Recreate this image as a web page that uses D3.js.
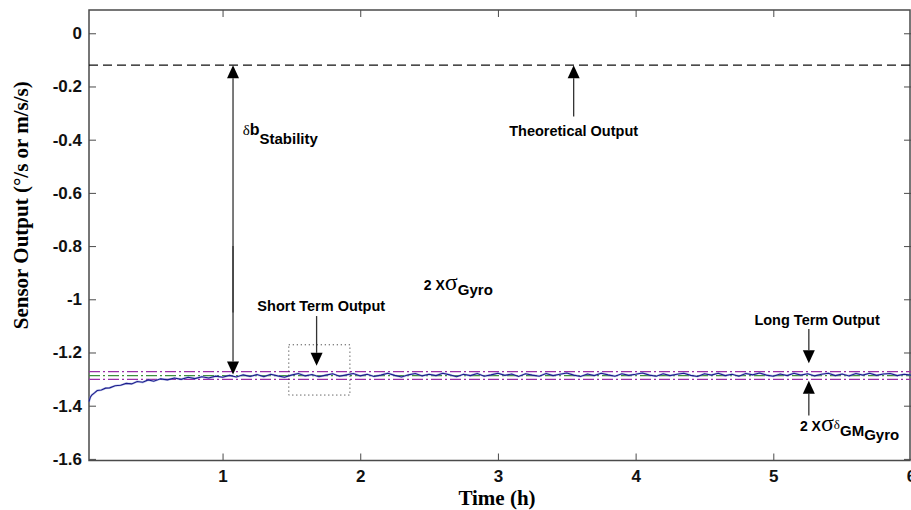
<!DOCTYPE html>
<html>
<head>
<meta charset="utf-8">
<script src="https://cdn.jsdelivr.net/npm/d3@7"></script>
<style>
  body { margin: 0; background: #fff; }
  svg { display: block; }
</style>
</head>
<body>
<div id="chart"></div>
<script>
// Sensor output (blue trace), time in hours
const traceTime = [
  0.03, 0.04, 0.05, 0.07, 0.09, 0.12, 0.15, 0.18, 0.22, 0.26,
  0.30, 0.34, 0.38, 0.42, 0.46, 0.50, 0.55, 0.60, 0.65, 0.70,
  0.75, 0.80, 0.85, 0.90, 0.95,
  1.00, 1.05, 1.10, 1.15, 1.20, 1.25, 1.30, 1.35, 1.40, 1.45,
  1.50, 1.55, 1.60, 1.65, 1.70, 1.75, 1.80, 1.85, 1.90, 1.95,
  2.00, 2.05, 2.10, 2.15, 2.20, 2.25, 2.30, 2.35, 2.40, 2.45,
  2.50, 2.55, 2.60, 2.65, 2.70, 2.75, 2.80, 2.85, 2.90, 2.95,
  3.00, 3.05, 3.10, 3.15, 3.20, 3.25, 3.30, 3.35, 3.40, 3.45,
  3.50, 3.55, 3.60, 3.65, 3.70, 3.75, 3.80, 3.85, 3.90, 3.95,
  4.00, 4.05, 4.10, 4.15, 4.20, 4.25, 4.30, 4.35, 4.40, 4.45,
  4.50, 4.55, 4.60, 4.65, 4.70, 4.75, 4.80, 4.85, 4.90, 4.95,
  5.00, 5.05, 5.10, 5.15, 5.20, 5.25, 5.30, 5.35, 5.40, 5.45,
  5.50, 5.55, 5.60, 5.65, 5.70, 5.75, 5.80, 5.85, 5.90, 5.95,
  6.00
];
const traceValue = [
  -1.385, -1.368, -1.360, -1.352, -1.343, -1.341, -1.334, -1.333, -1.325, -1.323,
  -1.316, -1.318, -1.309, -1.312, -1.303, -1.308, -1.299, -1.303, -1.296, -1.301,
  -1.293, -1.298, -1.291, -1.296, -1.289,
  -1.293, -1.286, -1.292, -1.284, -1.290, -1.283, -1.291, -1.282, -1.288, -1.293,
  -1.285, -1.279, -1.288, -1.283, -1.291, -1.285, -1.280, -1.289, -1.284, -1.279,
  -1.288, -1.282, -1.290, -1.285, -1.278, -1.286, -1.292, -1.284, -1.279, -1.288,
  -1.282, -1.287, -1.278, -1.284, -1.291, -1.282, -1.287, -1.279, -1.289, -1.284,
  -1.278, -1.286, -1.281, -1.290, -1.280, -1.285, -1.289, -1.279, -1.287, -1.282,
  -1.277, -1.285, -1.290, -1.281, -1.287, -1.278, -1.284, -1.289, -1.280, -1.286,
  -1.282, -1.277, -1.285, -1.289, -1.280, -1.287, -1.282, -1.278, -1.286, -1.290,
  -1.280, -1.285, -1.278, -1.287, -1.282, -1.289, -1.279, -1.284, -1.277, -1.285,
  -1.289, -1.281, -1.287, -1.278, -1.285, -1.280, -1.288, -1.282, -1.278, -1.287,
  -1.281, -1.288, -1.279, -1.285, -1.278, -1.286, -1.281, -1.279, -1.287, -1.282,
  -1.285
];

// horizontal reference levels
const theoreticalLevel = -0.12;
const bandLevels = [-1.272, -1.287, -1.301];   // upper 2σ, mean, lower 2σ

// axis ticks
const xTicks = [1, 2, 3, 4, 5, 6];
const yTicks = [0, -0.2, -0.4, -0.6, -0.8, -1, -1.2, -1.4, -1.6];

// annotation arrows: [x, tail y, tip y]
const arrows = [
  [1.076, -1.05, -0.12],
  [1.076, -0.80, -1.283],
  [3.55, -0.313, -0.12],
  [1.683, -1.063, -1.25],
  [5.258, -1.112, -1.24],
  [5.258, -1.437, -1.306]
];
// short-term zoom box: [x0, x1, y0, y1]
const shortBox = [1.481, 1.925, -1.171, -1.36];

const width = 911, height = 510;
const margin = { top: 10, right: 0, bottom: 50, left: 89 };

const x = d3.scaleLinear().domain([0.03, 6.0]).range([margin.left, width - margin.right]);
const y = d3.scaleLinear().domain([-1.606, 0.0875]).range([height - margin.bottom + 0.5, margin.top]);

const svg = d3.select("#chart").append("svg")
  .attr("width", width)
  .attr("height", height)
  .style("font-family", "'Liberation Sans', Arial, sans-serif");

svg.append("rect").attr("width", width).attr("height", height).attr("fill", "#fff");

const axisColor = "#4a4a4a";

function styleAxis(g) {
  g.select(".domain").remove();
  g.selectAll(".tick line").attr("stroke", axisColor);
  g.selectAll("text")
    .attr("fill", "#111")
    .style("font-size", "17px")
    .style("font-weight", "bold")
    .style("font-family", "'Liberation Sans', Arial, sans-serif");
}

const yFmt = d => String(+d.toFixed(1));

svg.append("g")
  .attr("transform", `translate(${margin.left},0)`)
  .call(d3.axisLeft(y).tickValues(yTicks).tickFormat(yFmt).tickSizeInner(-7).tickSizeOuter(0).tickPadding(7))
  .call(styleAxis);

svg.append("g")
  .attr("transform", `translate(${width - margin.right},0)`)
  .call(d3.axisRight(y).tickValues(yTicks).tickFormat("").tickSizeInner(-7).tickSizeOuter(0))
  .call(styleAxis);

svg.append("g")
  .attr("transform", `translate(0,${y.range()[0]})`)
  .call(d3.axisBottom(x).tickValues(xTicks).tickFormat(d3.format("d")).tickSizeInner(-7).tickSizeOuter(0).tickPadding(9))
  .call(styleAxis);

svg.append("g")
  .attr("transform", `translate(0,${margin.top})`)
  .call(d3.axisTop(x).tickValues(xTicks).tickFormat("").tickSizeInner(-7).tickSizeOuter(0))
  .call(styleAxis);

// frame
svg.append("rect")
  .attr("x", x.range()[0])
  .attr("y", y.range()[1])
  .attr("width", x.range()[1] - x.range()[0] - 1)
  .attr("height", y.range()[0] - y.range()[1])
  .attr("fill", "none")
  .attr("stroke", axisColor)
  .attr("stroke-width", 1.5);

// theoretical output line
svg.append("line")
  .attr("x1", x.range()[0]).attr("x2", x.range()[1])
  .attr("y1", y(theoreticalLevel)).attr("y2", y(theoreticalLevel))
  .attr("stroke", "#111").attr("stroke-width", 1.2)
  .attr("stroke-dasharray", "9,5");

// 2 sigma band lines
const bandStyles = [
  { color: "#9a2fa6", dash: "11,3,2,3" },
  { color: "#3f8f3f", dash: "11,3,2,3" },
  { color: "#9a2fa6", dash: "11,3,2,3" }
];
svg.selectAll("line.band")
  .data(bandLevels)
  .join("line")
  .attr("class", "band")
  .attr("x1", x.range()[0]).attr("x2", x.range()[1])
  .attr("y1", d => y(d)).attr("y2", d => y(d))
  .attr("stroke", (d, i) => bandStyles[i].color)
  .attr("stroke-width", 1.3)
  .attr("stroke-dasharray", (d, i) => bandStyles[i].dash);

// sensor trace
const line = d3.line()
  .x((d, i) => x(traceTime[i]))
  .y(d => y(d));

svg.append("path")
  .datum(traceValue)
  .attr("fill", "none")
  .attr("stroke", "#7f8fd8")
  .attr("stroke-width", 2.2)
  .attr("opacity", 0.5)
  .attr("d", line);

svg.append("path")
  .datum(traceValue)
  .attr("fill", "none")
  .attr("stroke", "#1c1c8c")
  .attr("stroke-width", 1.1)
  .attr("d", line);

// dotted box around short-term segment
svg.append("rect")
  .attr("x", x(shortBox[0]))
  .attr("y", y(shortBox[2]))
  .attr("width", x(shortBox[1]) - x(shortBox[0]))
  .attr("height", y(shortBox[3]) - y(shortBox[2]))
  .attr("fill", "none")
  .attr("stroke", "#222")
  .attr("stroke-width", 1)
  .attr("stroke-dasharray", "1,3");

// arrows
arrows.forEach(([ax, tail, tip]) => {
  const px = x(ax), y0 = y(tail), y1 = y(tip);
  const dir = y1 > y0 ? 1 : -1;
  const headLen = 13, halfW = 6;
  svg.append("line")
    .attr("x1", px).attr("x2", px)
    .attr("y1", y0).attr("y2", y1 - dir * headLen)
    .attr("stroke", "#333").attr("stroke-width", 1.3);
  svg.append("path")
    .attr("d", `M${px},${y1} L${px - halfW},${y1 - dir * headLen} L${px + halfW},${y1 - dir * headLen} Z`)
    .attr("fill", "#000");
});

// annotation texts
function label(tx, ty, anchor) {
  return svg.append("text")
    .attr("x", x(tx)).attr("y", y(ty))
    .attr("text-anchor", anchor || "start")
    .attr("fill", "#000")
    .style("font-weight", "bold");
}

label(3.55, -0.385, "middle").style("font-size", "14.5px").text("Theoretical Output");
label(1.717, -1.044, "middle").style("font-size", "14.5px").text("Short Term Output");
label(5.318, -1.097, "middle").style("font-size", "14.5px").text("Long Term Output");

const stab = label(1.146, -0.381);
stab.append("tspan").style("font-size", "15px").style("font-weight", "normal")
  .style("font-family", "'Liberation Serif', serif").text("δ");
stab.append("tspan").style("font-size", "16px").text("b");
stab.append("tspan").attr("dy", 9).style("font-size", "15px").text("Stability");

const sg = label(2.462, -0.965);
sg.append("tspan").style("font-size", "14px").text("2 X");
sg.append("tspan").style("font-size", "24px").style("font-weight", "normal")
  .style("font-family", "'Liberation Serif', serif").text("σ");
sg.append("tspan").attr("dy", 5).style("font-size", "15px").text("Gyro");

const sgm = label(5.193, -1.494);
sgm.append("tspan").style("font-size", "14px").text("2 X");
sgm.append("tspan").style("font-size", "24px").style("font-weight", "normal")
  .style("font-family", "'Liberation Serif', serif").text("σ");
sgm.append("tspan").attr("dy", -2).style("font-size", "13px").style("font-weight", "normal")
  .style("font-family", "'Liberation Serif', serif").text("δ");
sgm.append("tspan").attr("dy", 7).style("font-size", "15px").text("GM");
sgm.append("tspan").attr("dy", 4).style("font-size", "15px").text("Gyro");

// axis titles
svg.append("text")
  .attr("x", (x.range()[0] + x.range()[1]) / 2 - 3)
  .attr("y", 505)
  .attr("text-anchor", "middle")
  .style("font-family", "'Liberation Serif', 'Times New Roman', serif")
  .style("font-size", "21px")
  .style("font-weight", "bold")
  .text("Time (h)");

svg.append("text")
  .attr("transform", `translate(28,${(y.range()[0] + y.range()[1]) / 2 - 30}) rotate(-90)`)
  .attr("text-anchor", "middle")
  .style("font-family", "'Liberation Serif', 'Times New Roman', serif")
  .style("font-size", "21px")
  .style("font-weight", "bold")
  .text("Sensor Output (°/s or m/s/s)");
</script>
</body>
</html>
